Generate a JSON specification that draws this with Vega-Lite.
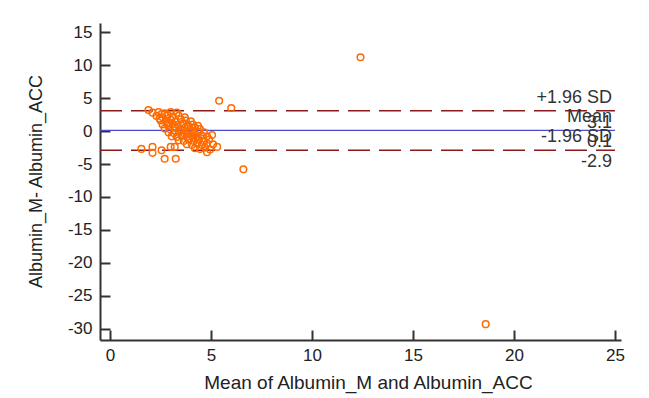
{
  "$schema": "https://vega.github.io/schema/vega-lite/v6.json",
  "width": 521,
  "height": 317,
  "autosize": {"type": "none"},
  "padding": {"left": 100, "top": 23, "right": 28, "bottom": 58},
  "background": "white",
  "config": {
    "view": {"stroke": null},
    "font": "Liberation Sans",
    "axis": {
      "grid": false,
      "domainColor": "#333333",
      "domainWidth": 2,
      "tickColor": "#333333",
      "tickWidth": 2,
      "labelFont": "Liberation Sans",
      "labelFontSize": 17,
      "labelColor": "#222222",
      "labelOverlap": false,
      "labelFlush": false,
      "titleFont": "Liberation Sans",
      "titleFontSize": 18,
      "titleFontWeight": "normal",
      "titleColor": "#222222"
    }
  },
  "resolve": {"axis": {"x": "independent", "y": "independent"}},
  "datasets": {
    "diffs": [
      {"avg": 2.1, "diff": 2.8}, {"avg": 2.4, "diff": 2.9}, {"avg": 2.7, "diff": 2.7}, {"avg": 3.0, "diff": 2.9}, {"avg": 3.3, "diff": 2.8}, {"avg": 2.55, "diff": 2.6},
      {"avg": 2.3, "diff": 2.3}, {"avg": 2.6, "diff": 2.1}, {"avg": 2.85, "diff": 2.4}, {"avg": 3.1, "diff": 2.2}, {"avg": 3.4, "diff": 2.3}, {"avg": 3.7, "diff": 2.1}, {"avg": 2.45, "diff": 1.9},
      {"avg": 2.5, "diff": 1.6}, {"avg": 2.75, "diff": 1.5}, {"avg": 3.0, "diff": 1.7}, {"avg": 3.25, "diff": 1.5}, {"avg": 3.5, "diff": 1.8}, {"avg": 3.75, "diff": 1.6}, {"avg": 4.0, "diff": 1.5}, {"avg": 2.9, "diff": 1.2},
      {"avg": 2.6, "diff": 1.0}, {"avg": 2.85, "diff": 0.9}, {"avg": 3.1, "diff": 1.1}, {"avg": 3.35, "diff": 0.9}, {"avg": 3.6, "diff": 1.1}, {"avg": 3.85, "diff": 0.9}, {"avg": 4.1, "diff": 1.0}, {"avg": 4.35, "diff": 0.8}, {"avg": 3.2, "diff": 0.7},
      {"avg": 2.7, "diff": 0.4}, {"avg": 2.95, "diff": 0.3}, {"avg": 3.2, "diff": 0.5}, {"avg": 3.45, "diff": 0.3}, {"avg": 3.7, "diff": 0.5}, {"avg": 3.95, "diff": 0.3}, {"avg": 4.2, "diff": 0.5}, {"avg": 4.45, "diff": 0.3}, {"avg": 3.55, "diff": 0.1}, {"avg": 4.05, "diff": 0.0},
      {"avg": 2.9, "diff": -0.2}, {"avg": 3.15, "diff": -0.3}, {"avg": 3.4, "diff": -0.1}, {"avg": 3.65, "diff": -0.3}, {"avg": 3.9, "diff": -0.1}, {"avg": 4.15, "diff": -0.3}, {"avg": 4.4, "diff": -0.1}, {"avg": 4.65, "diff": -0.2}, {"avg": 3.8, "diff": -0.5},
      {"avg": 3.05, "diff": -0.8}, {"avg": 3.3, "diff": -0.9}, {"avg": 3.55, "diff": -0.7}, {"avg": 3.8, "diff": -0.9}, {"avg": 4.05, "diff": -0.7}, {"avg": 4.3, "diff": -0.9}, {"avg": 4.55, "diff": -0.7}, {"avg": 4.8, "diff": -0.8}, {"avg": 4.2, "diff": -1.1},
      {"avg": 3.4, "diff": -1.4}, {"avg": 3.65, "diff": -1.5}, {"avg": 3.9, "diff": -1.3}, {"avg": 4.15, "diff": -1.5}, {"avg": 4.4, "diff": -1.3}, {"avg": 4.65, "diff": -1.5}, {"avg": 4.9, "diff": -1.3}, {"avg": 5.05, "diff": -0.6},
      {"avg": 3.8, "diff": -2.0}, {"avg": 4.05, "diff": -2.1}, {"avg": 4.3, "diff": -1.9}, {"avg": 4.55, "diff": -2.1}, {"avg": 4.8, "diff": -1.9}, {"avg": 5.1, "diff": -2.0}, {"avg": 5.3, "diff": -2.4},
      {"avg": 4.2, "diff": -2.6}, {"avg": 4.45, "diff": -2.7}, {"avg": 4.7, "diff": -2.5}, {"avg": 4.95, "diff": -2.8}, {"avg": 4.8, "diff": -3.2},
      {"avg": 1.55, "diff": -2.7}, {"avg": 2.1, "diff": -2.4}, {"avg": 2.1, "diff": -3.3}, {"avg": 2.55, "diff": -2.9}, {"avg": 2.7, "diff": -4.2}, {"avg": 3.25, "diff": -4.2}, {"avg": 3.0, "diff": -2.4}, {"avg": 3.2, "diff": -2.4},
      {"avg": 1.9, "diff": 3.2}, {"avg": 5.4, "diff": 4.6}, {"avg": 6.0, "diff": 3.5}, {"avg": 6.6, "diff": -5.8}, {"avg": 12.4, "diff": 11.2}, {"avg": 18.6, "diff": -29.3}
    ],
    "limits": [
      {"name": "+1.96 SD", "value": 3.1, "shown": "3.1", "kind": "limit", "from": -0.5, "to": 25},
      {"name": "Mean", "value": 0.1, "shown": "0.1", "kind": "mean", "from": -0.5, "to": 25},
      {"name": "-1.96 SD", "value": -2.9, "shown": "-2.9", "kind": "limit", "from": -0.5, "to": 25}
    ]
  },
  "layer": [
    {
      "data": {"name": "limits"},
      "transform": [{"filter": "datum.kind === 'limit'"}],
      "mark": {"type": "rule", "color": "#8b1a1a", "strokeWidth": 1.5, "strokeDash": [22, 9]},
      "encoding": {
        "x": {
          "field": "from", "type": "quantitative",
          "scale": {"domain": [-0.5, 25.3], "nice": false, "zero": false},
          "axis": {"orient": "top", "offset": -317, "values": [0, 5, 10, 15, 20, 25], "domain": false, "labels": false, "ticks": true, "tickSize": 10, "title": null}
        },
        "x2": {"field": "to"},
        "y": {
          "field": "value", "type": "quantitative",
          "scale": {"domain": [-31.7, 16.4], "nice": false, "zero": false},
          "axis": {"orient": "right", "offset": -521, "values": [-30, -25, -20, -15, -10, -5, 0, 5, 10, 15], "domain": false, "labels": false, "ticks": true, "tickSize": 10, "title": null}
        }
      }
    },
    {
      "data": {"name": "limits"},
      "transform": [{"filter": "datum.kind === 'mean'"}],
      "mark": {"type": "rule", "color": "#4b4bc8", "strokeWidth": 1.3},
      "encoding": {
        "x": {"field": "from", "type": "quantitative", "axis": null},
        "x2": {"field": "to"},
        "y": {"field": "value", "type": "quantitative", "axis": null}
      }
    },
    {
      "data": {"name": "diffs"},
      "mark": {"type": "point", "shape": "circle", "filled": false, "color": "#ff6a00", "strokeWidth": 1.5, "size": 44, "opacity": 1},
      "encoding": {
        "x": {
          "field": "avg", "type": "quantitative",
          "axis": {"values": [0, 5, 10, 15, 20, 25], "ticks": false, "labelPadding": 7, "labelExpr": "replace(datum.label, '\u2212', '-')", "title": "Mean of Albumin_M and Albumin_ACC", "titleFontSize": 19, "titleBaseline": "alphabetic", "titleY": 48, "titleX": 268}
        },
        "y": {
          "field": "diff", "type": "quantitative",
          "axis": {"values": [-30, -25, -20, -15, -10, -5, 0, 5, 10, 15], "ticks": false, "labelPadding": 8, "labelExpr": "replace(datum.label, '\u2212', '-')", "title": "Albumin_M- Albumin_ACC", "titleX": -55, "titleY": 158}
        }
      }
    },
    {
      "data": {"name": "limits"},
      "mark": {"type": "text", "align": "right", "baseline": "alphabetic", "dx": -3, "dy": -8, "fontSize": 18, "color": "#333333", "font": "Liberation Sans"},
      "encoding": {
        "x": {"field": "to", "type": "quantitative", "axis": null},
        "y": {"field": "value", "type": "quantitative", "axis": null},
        "text": {"field": "name"}
      }
    },
    {
      "data": {"name": "limits"},
      "mark": {"type": "text", "align": "right", "baseline": "alphabetic", "dx": -3, "dy": 17, "fontSize": 18, "color": "#333333", "font": "Liberation Sans"},
      "encoding": {
        "x": {"field": "to", "type": "quantitative", "axis": null},
        "y": {"field": "value", "type": "quantitative", "axis": null},
        "text": {"field": "shown"}
      }
    }
  ]
}
